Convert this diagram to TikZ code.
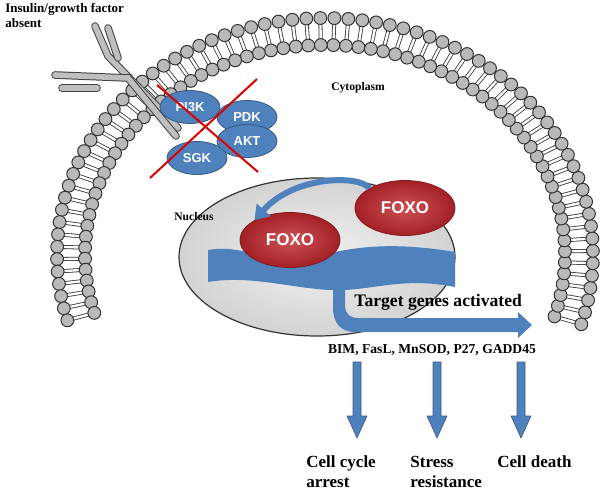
\documentclass[tikz,border=0pt]{standalone}
\usepackage{fontspec}
\setmainfont{Liberation Serif}
\newfontfamily\sansf{Liberation Sans}
\usetikzlibrary{arrows.meta,shapes.geometric}
\definecolor{pblue}{HTML}{4F81BD}
\definecolor{fred}{HTML}{C0262C}
\tikzset{
 kin/.style={ellipse,fill=pblue,draw=pblue!70!black,minimum width=60*0.5pt,minimum height=33*0.5pt,inner sep=0pt,text=white,font=\sansf\bfseries\fontsize{6.5}{7}\selectfont},
 foxo/.style={ellipse,inner color=fred!80!white,outer color=fred!85!black,draw=fred!70!black,minimum width=100*0.5pt,minimum height=55*0.5pt,inner sep=0pt,text=white,font=\sansf\bfseries\fontsize{8.5}{9}\selectfont},
 lbl/.style={font=\bfseries\fontsize{6.5}{7.5}\selectfont,align=left,inner sep=0pt},
 big/.style={font=\bfseries\fontsize{8.5}{10}\selectfont,inner sep=0pt},
 rec/.style={line width=3.8pt,draw=black!75,line cap=round},
 recin/.style={line width=2.8pt,draw=black!25,line cap=round},
}
\begin{document}
\begin{tikzpicture}[x=0.5pt,y=-0.5pt]
\useasboundingbox (0,0) rectangle (606,498);
% membrane
\foreach \t in {-17,-14,...,197}{
  \draw[black!80,double=white,double distance=1.2pt,line width=0.4pt]
   ({325+262*cos(\t)},{255-231*sin(\t)}) -- ({325+246*cos(\t)},{255-216*sin(\t)});
}
\foreach \t in {-17,-14,...,197}{
  \fill[gray!55,draw=black!80,line width=0.5pt] ({325+268*cos(\t)},{255-237*sin(\t)}) circle (3.2pt);
  \fill[gray!55,draw=black!80,line width=0.5pt] ({325+240*cos(\t)},{255-210*sin(\t)}) circle (3.2pt);
}
% receptor
\foreach \p in {{(95,26) -- (108,56) -- (178,128)},{(55,75) -- (128,78) -- (176,136)},{(108,28) -- (118,58)},{(62,88) -- (97,88)}}{
  \draw[rec] \p; \draw[recin] \p;
}
\node[lbl,anchor=north west] (ins) at (5,3) {Insulin/growth factor\\absent};
\node[lbl,font=\bfseries\fontsize{5.8}{6}\selectfont] (cyt) at (358,88) {Cytoplasm};
% kinases
\node[kin] (pi3k) at (190,107) {PI3K};
\node[kin] (pdk) at (247,117) {PDK};
\node[kin] (akt) at (247,141) {AKT};
\node[kin] (sgk) at (197,158) {SGK};
\coordinate (c1) at (157,85); \coordinate (c2) at (258,172);
\coordinate (c3) at (257,79); \coordinate (c4) at (150,178);
\draw[red!85!black,line width=1pt] (c1) -- (c2);
\draw[red!85!black,line width=1pt] (c3) -- (c4);
% nucleus
\node[ellipse,draw=black!80,line width=0.6pt,inner color=gray!10,outer color=gray!35,minimum width=276*0.5pt,minimum height=158*0.5pt] (nuc) at (317,257) {};
\node[lbl,font=\bfseries\fontsize{5.8}{6}\selectfont] (nl) at (194,217) {Nucleus};
% DNA ribbon
\fill[pblue] (208,250) .. controls (240,244) and (265,262) .. (300,258) .. controls (340,253) and (370,238) .. (455,252)
 -- (455,287) .. controls (400,276) and (370,292) .. (330,290) .. controls (290,288) and (250,275) .. (208,282) -- cycle;
% bent arrow
\coordinate (at) at (532,325);
\fill[pblue] (333,286) -- (345,286) -- (345,305) .. controls (345,314) and (350,318) .. (358,318) -- (518,318) -- (518,312) -- (at) -- (518,338) -- (518,332) -- (355,332) .. controls (340,332) and (333,322) .. (333,308) -- cycle;
\node[big,font=\bfseries\fontsize{8.8}{10}\selectfont,anchor=west] (tg) at (354,302) {Target genes activated};
% FOXO
\node[foxo] (fr) at (405,208) {FOXO};
\node[foxo] (fl) at (290,240) {FOXO};
\draw[pblue,line width=3pt,-{Triangle[length=7pt,width=9pt]}] (fr.north west) .. controls (360,175) and (295,175) .. (fl.north west);
% genes
\node[lbl,font=\bfseries\fontsize{6.8}{8}\selectfont] (gl) at (432,350) {BIM, FasL, MnSOD, P27, GADD45};
\foreach \x/\n in {357/a,437/b,521/c}{
  \coordinate (t\n) at (\x,438);
  \fill[pblue,draw=pblue!70!black,line width=0.3pt] (\x-4,362) -- (\x+4,362) -- (\x+4,416) -- (\x+10,416) -- (t\n) -- (\x-10,416) -- (\x-4,416) -- cycle;
}
\node[big,anchor=west,align=left] (o1) at (306,472) {Cell cycle\\arrest};
\node[big,anchor=west,align=left] (o2) at (410,472) {Stress\\resistance};
\node[big,anchor=north west] (o3) at (497,455) {Cell death};
\end{tikzpicture}
\end{document}
